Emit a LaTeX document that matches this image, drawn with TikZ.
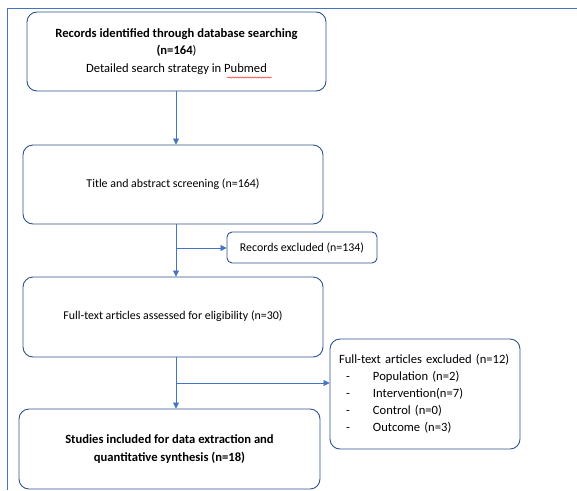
\documentclass[tikz,border=0pt]{standalone}
\usepackage{fontspec}
\setmainfont{Carlito}
\usetikzlibrary{arrows.meta,decorations.pathmorphing}
\definecolor{boxblue}{HTML}{2F528F}
\definecolor{arrblue}{HTML}{4472C4}
\begin{document}
\begin{tikzpicture}[x=1pt,y=-1pt,
  box/.style={draw=boxblue, line width=0.9pt, rounded corners=10pt, fill=white, align=center, inner sep=0pt},
  arr/.style={draw=arrblue, line width=0.7pt, -{Triangle[length=6pt,width=6pt]}},
  big/.style={font=\fontsize{12.6}{17.5}\selectfont},
  font=\fontsize{11.9}{17}\selectfont]
\useasboundingbox (0,0) rectangle (577,490);
\draw[arrblue, line width=0.8pt] (7,490) -- (7,8) -- (577,8);

\node[box, big, minimum width=299pt, minimum height=79pt] (b1) at (176.5,51.5)
  {\textbf{Records identified through database searching}\\\textbf{(n=164})\\Detailed search strategy in Pubmed};
\node[box, minimum width=300pt, minimum height=79pt] (b2) at (173,184.5)
  {Title and abstract screening (n=164)};
\node[box, minimum width=150pt, minimum height=31pt, rounded corners=5pt] (rex) at (302,247.5)
  {Records excluded (n=134)};
\node[box, minimum width=300pt, minimum height=80pt] (b3) at (173,317)
  {\raisebox{4pt}{Full-text articles assessed for eligibility (n=30)}};
\node[box, big, minimum width=186pt, minimum height=110pt, align=left, text width=172pt, inner xsep=9pt] (exc) at (425,394)
  {Full-text articles excluded (n=12)\\[-0.6pt]
   \makebox[34pt][l]{\hspace{7pt}-}Population (n=2)\\[-0.6pt]
   \makebox[34pt][l]{\hspace{7pt}-}Intervention(n=7)\\[-0.6pt]
   \makebox[34pt][l]{\hspace{7pt}-}Control (n=0)\\[-0.6pt]
   \makebox[34pt][l]{\hspace{7pt}-}Outcome (n=3)};
\node[box, big, minimum width=301pt, minimum height=80pt] (b4) at (169.5,449)
  {\textbf{Studies included for data extraction and}\\\textbf{quantitative synthesis (n=18)}};

\coordinate (ax) at (176,0);
\coordinate (j1) at (176,248);
\coordinate (j2) at (176,383);
\draw[arr] (b1.south -| ax) -- (b2.north -| ax);
\draw[arr] (b2.south -| ax) -- (b3.north -| ax);
\draw[arr] (j1) -- (rex.west |- j1);
\draw[arr] (b3.south -| ax) -- (b4.north -| ax);
\draw[arr] (j2) -- (exc.west |- j2);
\draw[red, line width=0.4pt, decorate, decoration={snake, amplitude=0.6pt, segment length=2.5pt}] (227,77.5) -- (272,77.5);
\end{tikzpicture}
\end{document}
